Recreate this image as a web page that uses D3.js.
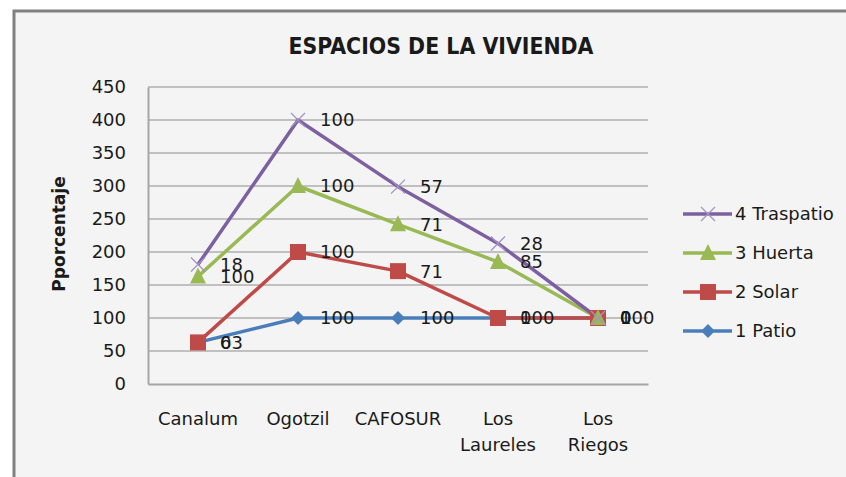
<!DOCTYPE html>
<html>
<head>
<meta charset="utf-8">
<script src="https://cdn.jsdelivr.net/npm/d3@7"></script>
<style>
  body { margin: 0; background: #fff; }
  text { font-family: "DejaVu Sans", "Noto Sans", sans-serif; fill: #1a1a1a; }
</style>
</head>
<body>
<div class="container"></div>
<script>
// categories + raw (non stacked) values
var categories = ["Canalum", "Ogotzil", "CAFOSUR", "Los Laureles", "Los Riegos"];
var patio     = [63, 100, 100, 100, 100];
var solar     = [0, 100, 71, 0, 0];
var huerta    = [100, 100, 71, 85, 0];
var traspatio = [18, 100, 57, 28, 0];
var yTicks = [0, 50, 100, 150, 200, 250, 300, 350, 400, 450];

var seriesNames = ["1 Patio", "2 Solar", "3 Huerta", "4 Traspatio"];
var seriesColors = ["#4a7ebb", "#be4b48", "#98b954", "#7d60a0"];
var seriesMarkers = ["diamond", "square", "triangle", "cross"];

var W = 846, H = 477;
var margin = {left: 148, right: 198, top: 87, bottom: 93};

var svg = d3.select(".container").append("svg")
    .attr("width", W)
    .attr("height", H);

// chart area frame
svg.append("rect")
    .attr("x", 14).attr("y", 11)
    .attr("width", W).attr("height", H)
    .attr("fill", "#f4f4f4")
    .attr("stroke", "#808080")
    .attr("stroke-width", 3);

var x = d3.scaleBand().domain(categories).range([margin.left, W - margin.right]);
var y = d3.scaleLinear().domain([0, 450]).range([H - margin.bottom, margin.top]);

// stack the series (stacked line chart)
var raw = [patio, solar, huerta, traspatio];
var cum = categories.map(function() { return 0; });
var series = raw.map(function(vals, s) {
    var pts = vals.map(function(v, i) {
        cum[i] += v;
        return {cat: categories[i], value: v, total: cum[i]};
    });
    return {name: seriesNames[s], color: seriesColors[s], marker: seriesMarkers[s], points: pts};
});

// gridlines
svg.append("g").selectAll("line")
    .data(yTicks.slice(1))
    .enter().append("line")
    .attr("x1", margin.left).attr("x2", W - margin.right)
    .attr("y1", function(d) { return y(d); })
    .attr("y2", function(d) { return y(d); })
    .attr("stroke", "#8c8c8c")
    .attr("stroke-width", 1);

// axes
var yAxis = svg.append("g")
    .attr("transform", "translate(" + margin.left + ",0)")
    .call(d3.axisLeft(y).tickValues(yTicks).tickSize(0).tickPadding(22));
yAxis.select(".domain").attr("stroke", "#a6a6a6").attr("stroke-width", 2);
yAxis.selectAll("text").attr("font-size", 18).attr("fill", "#1a1a1a");

var xAxis = svg.append("g")
    .attr("transform", "translate(0," + y(0) + ")")
    .call(d3.axisBottom(x).tickSize(0).tickPadding(0));
xAxis.select(".domain").attr("stroke", "#a6a6a6").attr("stroke-width", 2);
xAxis.selectAll(".tick text").each(function(d) {
    var t = d3.select(this);
    t.text(null).attr("font-size", 18).attr("fill", "#1a1a1a");
    var words = d.split(" ");
    words.forEach(function(w, i) {
        t.append("tspan").attr("x", 0).attr("y", 28 + i * 26).attr("dy", "0.71em").text(w);
    });
});

// title
svg.append("text")
    .attr("x", 441).attr("y", 54)
    .attr("text-anchor", "middle")
    .attr("font-size", 23)
    .attr("font-weight", "bold")
    .attr("textLength", 305)
    .attr("lengthAdjust", "spacingAndGlyphs")
    .style("font-family", "'DejaVu Sans Condensed', 'DejaVu Sans', sans-serif")
    .text("ESPACIOS DE LA VIVIENDA");

// y axis title
svg.append("text")
    .attr("transform", "translate(65," + 234 + ") rotate(-90)")
    .attr("text-anchor", "middle")
    .attr("font-size", 17)
    .attr("font-weight", "bold")
    .text("Pporcentaje");

function drawMarker(g, type, color, cx, cy) {
    if (type == "diamond") {
        g.append("path")
            .attr("d", "M" + cx + "," + (cy - 7) + "L" + (cx + 7) + "," + cy + "L" + cx + "," + (cy + 7) + "L" + (cx - 7) + "," + cy + "Z")
            .attr("fill", color);
    } else if (type == "square") {
        g.append("rect")
            .attr("x", cx - 8).attr("y", cy - 8)
            .attr("width", 16).attr("height", 16)
            .attr("fill", color);
    } else if (type == "triangle") {
        g.append("path")
            .attr("d", "M" + cx + "," + (cy - 9) + "L" + (cx + 8) + "," + (cy + 7) + "L" + (cx - 8) + "," + (cy + 7) + "Z")
            .attr("fill", color);
    } else {
        g.append("path")
            .attr("d", "M" + (cx - 7) + "," + (cy - 7) + "L" + (cx + 7) + "," + (cy + 7) + "M" + (cx + 7) + "," + (cy - 7) + "L" + (cx - 7) + "," + (cy + 7))
            .attr("stroke", "#a493c4")
            .attr("stroke-width", 1.3)
            .attr("fill", "none");
    }
}

var line = d3.line()
    .x(function(d) { return x(d.cat) + x.bandwidth() / 2; })
    .y(function(d) { return y(d.total); });

var plot = svg.append("g");
series.forEach(function(s) {
    plot.append("path")
        .datum(s.points)
        .attr("d", line)
        .attr("fill", "none")
        .attr("stroke", s.color)
        .attr("stroke-width", 3.5)
        .attr("stroke-linejoin", "round");
});
series.forEach(function(s) {
    s.points.forEach(function(p) {
        drawMarker(plot, s.marker, s.color, x(p.cat) + x.bandwidth() / 2, y(p.total));
    });
});
// data labels (raw values, right of point)
series.forEach(function(s) {
    plot.selectAll(null)
        .data(s.points)
        .enter().append("text")
        .attr("x", function(d) { return x(d.cat) + x.bandwidth() / 2 + 22; })
        .attr("y", function(d) { return y(d.total); })
        .attr("dy", "0.36em")
        .attr("font-size", 18)
        .text(function(d) { return d.value; });
});

// legend (top entry is Traspatio)
var legend = svg.append("g");
series.slice().reverse().forEach(function(s, i) {
    var ly = 214 + i * 39;
    legend.append("line")
        .attr("x1", 683).attr("x2", 732)
        .attr("y1", ly).attr("y2", ly)
        .attr("stroke", s.color).attr("stroke-width", 3.5);
    drawMarker(legend, s.marker, s.color, 708, ly);
    legend.append("text")
        .attr("x", 735).attr("y", ly)
        .attr("dy", "0.36em")
        .attr("font-size", 18)
        .text(s.name);
});
</script>
</body>
</html>
